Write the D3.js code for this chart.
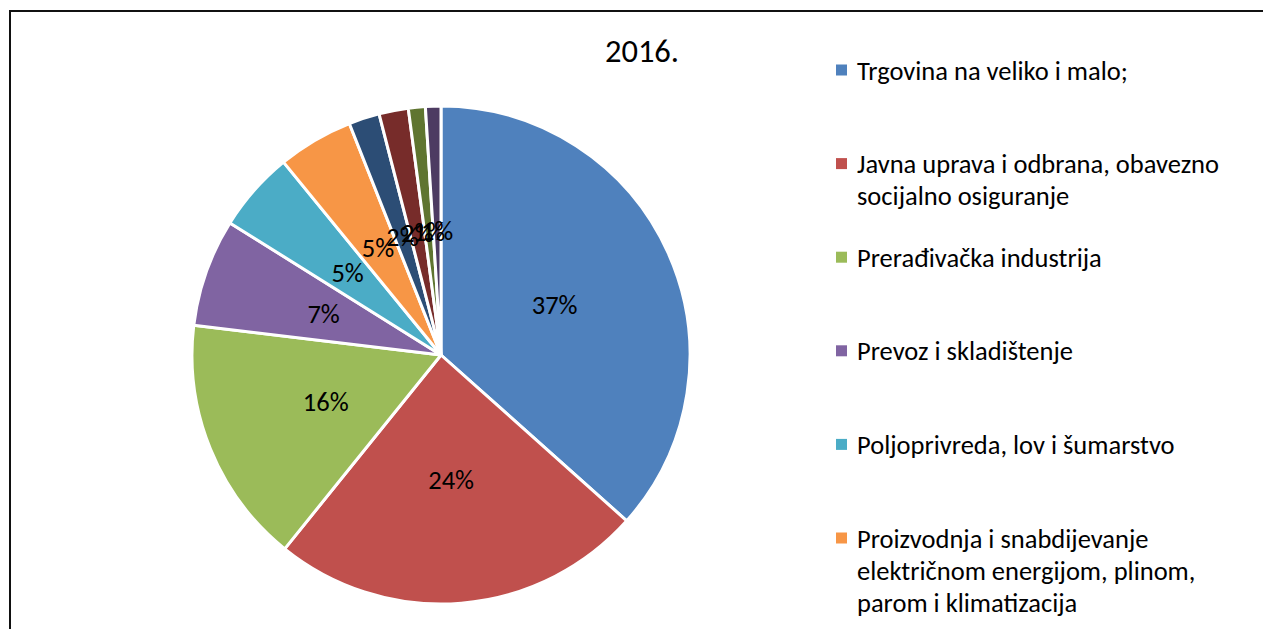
<!DOCTYPE html>
<html>
<head>
<meta charset="utf-8">
<script src="https://cdn.jsdelivr.net/npm/d3@7"></script>
<style>
  html, body { margin: 0; padding: 0; background: #fff; overflow: hidden; }
  svg { display: block; }
  text { font-family: Carlito, Lato, "Open Sans", sans-serif; fill: #000; }
</style>
</head>
<body>
<svg id="chart" width="1263" height="629"></svg>
<script>
const title = "2016.";
const categories = [
  "Trgovina na veliko i malo;",
  "Javna uprava i odbrana, obavezno socijalno osiguranje",
  "Prerađivačka industrija",
  "Prevoz i skladištenje",
  "Poljoprivreda, lov i šumarstvo",
  "Proizvodnja i snabdijevanje električnom energijom, plinom, parom i klimatizacija",
  "Građevinarstvo",
  "Finansijske djelatnosti i djelatnosti osiguranja",
  "Informacije i komunikacije",
  "Ostale djelatnosti"
];
const values = [36.6, 24.2, 16.1, 7.0, 5.2, 4.9, 2.0, 1.9, 1.1, 1.0];
const colors = ["#4F81BD", "#C0504D", "#9BBB59", "#8064A2", "#4BACC6", "#F79646",
                "#2C4D75", "#772C2A", "#5F7530", "#4D3B62"];

const svg = d3.select("#chart");

// outer frame (extends beyond the visible window on right/bottom)
svg.append("rect")
  .attr("x", 10).attr("y", 11)
  .attr("width", 1400).attr("height", 800)
  .attr("fill", "none").attr("stroke", "#111").attr("stroke-width", 2);

const cx = 441, cy = 355, r = 249;
const pie = d3.pie().sort(null).value(d => d)
  .startAngle(0).endAngle(2 * Math.PI);
const arcs = pie(values);
const arc = d3.arc().innerRadius(0).outerRadius(r);
const color = d3.scaleOrdinal().domain(d3.range(values.length)).range(colors);
const total = d3.sum(values);

const g = svg.append("g").attr("transform", `translate(${cx},${cy})`);
g.selectAll("path.slice").data(arcs).enter().append("path")
  .attr("class", "slice")
  .attr("d", arc)
  .attr("fill", (d, i) => color(i))
  .attr("stroke", "#fff").attr("stroke-width", 3).attr("stroke-linejoin", "round");

g.selectAll("text.lbl").data(arcs).enter().append("text")
  .attr("class", "lbl")
  .attr("transform", d => `translate(${arc.centroid(d)})`)
  .attr("text-anchor", "middle")
  .attr("dy", "0.36em")
  .style("font-size", "26.5px")
  .text(d => Math.round(d.data / total * 100) + "%");

// title
svg.append("text")
  .attr("x", 642).attr("y", 62)
  .attr("text-anchor", "middle")
  .style("font-size", "32.5px")
  .text(title);

// legend
const legX = 836, legY0 = 70, legStep = 93.6, lineH = 32, maxW = 375;
const legend = svg.append("g");
let y = legY0, prevLast = -Infinity;
categories.forEach((name, i) => {
  if (i > 0) y = Math.max(y + legStep, prevLast + 60);
  const item = legend.append("g");
  item.append("rect")
    .attr("x", legX).attr("y", y - 5.5)
    .attr("width", 11).attr("height", 11)
    .attr("fill", color(i));
  const t = item.append("text")
    .attr("x", legX + 21).attr("y", y)
    .style("font-size", "26.5px");
  const words = name.split(" ");
  let line = [];
  let tspan = t.append("tspan").attr("x", legX + 21).attr("dy", "0.36em");
  let lineNo = 0;
  words.forEach(w => {
    line.push(w);
    tspan.text(line.join(" "));
    if (tspan.node().getComputedTextLength() > maxW && line.length > 1) {
      line.pop();
      tspan.text(line.join(" "));
      line = [w];
      lineNo++;
      tspan = t.append("tspan").attr("x", legX + 21).attr("dy", lineH + "px").text(w);
    }
  });
  prevLast = y + lineNo * lineH;
});
</script>
</body>
</html>
